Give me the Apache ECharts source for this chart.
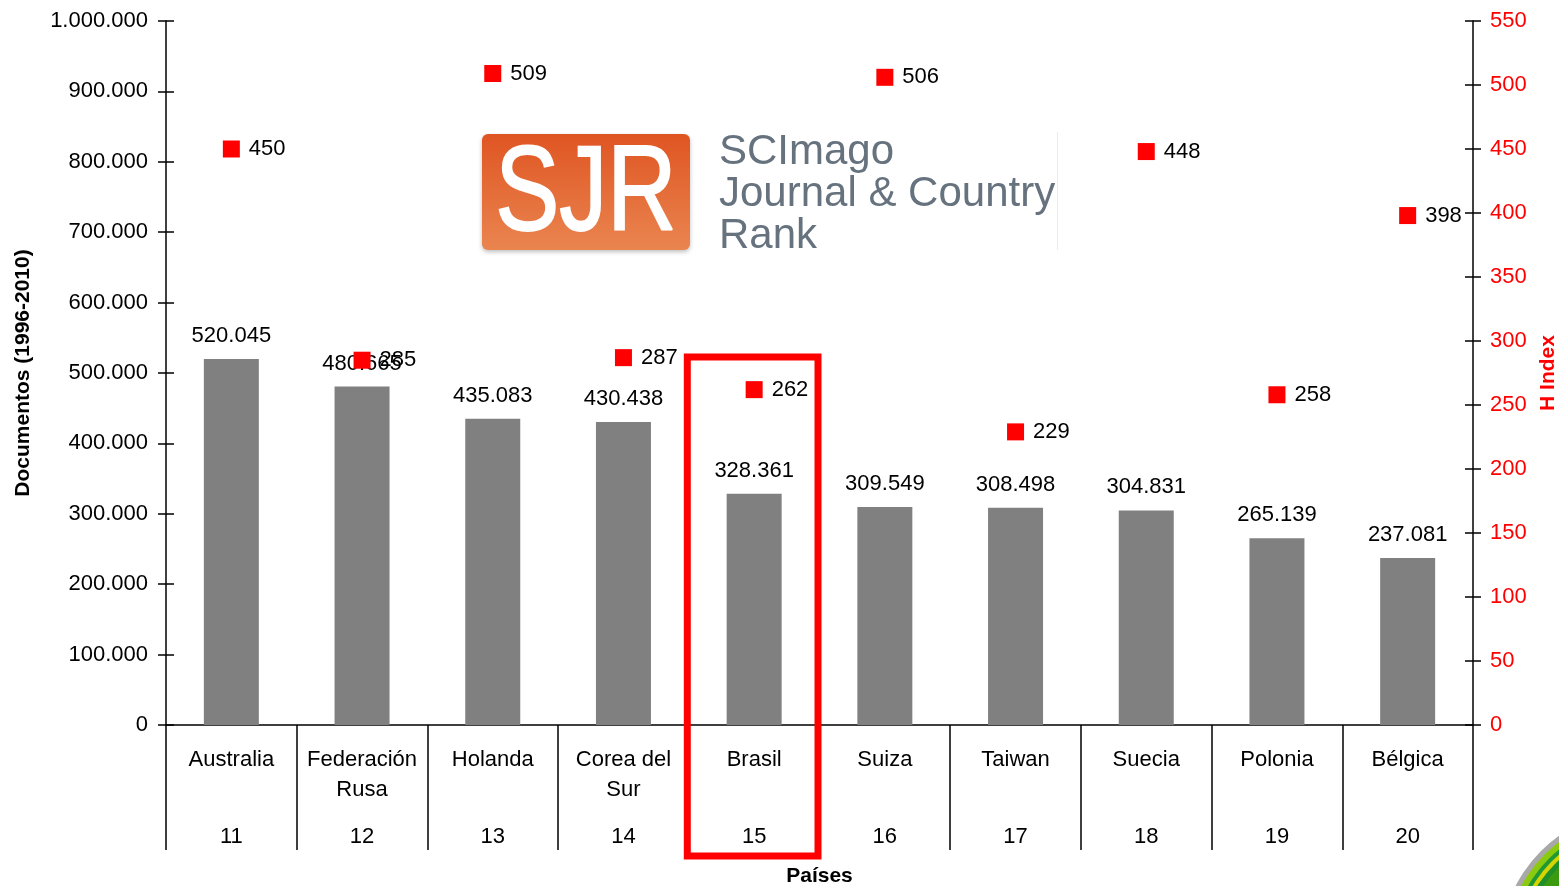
<!DOCTYPE html>
<html>
<head>
<meta charset="utf-8">
<script src="https://cdn.jsdelivr.net/npm/echarts@6/dist/echarts.min.js"></script>
<style>
  html, body { margin: 0; padding: 0; background: #fff; overflow: hidden; }
  #chart { width: 1559px; height: 886px; }
</style>
</head>
<body>
<div id="chart"></div>
<script>
// datos
var paises = ['Australia', 'Federación\nRusa', 'Holanda', 'Corea del\nSur', 'Brasil',
  'Suiza', 'Taiwan', 'Suecia', 'Polonia', 'Bélgica'];
var ranking = ['11', '12', '13', '14', '15', '16', '17', '18', '19', '20'];
var documentos = [520045, 480665, 435083, 430438, 328361, 309549, 308498, 304831, 265139, 237081];
var hIndex = [450, 285, 509, 287, 262, 506, 229, 448, 258, 398];

var FONT = 'Liberation Sans, Arial, sans-serif';

function miles(v) {
  return String(v).replace(/\B(?=(\d{3})+(?!\d))/g, '.');
}

var myChart = echarts.init(document.getElementById('chart'));

var ejeNegro = { lineStyle: { color: '#000', width: 1.5 } };

var option = {
  animation: false,
  textStyle: { fontFamily: FONT },
  grid: { left: 166, right: 86, top: 21, bottom: 161, containLabel: false, outerBoundsMode: 'none' },
  xAxis: [
    {
      type: 'category',
      data: paises,
      position: 'bottom',
      axisLine: ejeNegro,
      axisTick: { show: true, length: 125, interval: 0, lineStyle: { color: '#000', width: 1.5 } },
      axisLabel: { interval: 0, margin: 20, color: '#000', fontSize: 22, lineHeight: 30, fontFamily: FONT },
      name: 'Países',
      nameLocation: 'middle',
      nameGap: 141,
      nameTextStyle: { fontWeight: 'bold', fontSize: 21, color: '#000', fontFamily: FONT }
    },
    {
      type: 'category',
      data: ranking,
      position: 'bottom',
      axisLine: { show: false },
      axisTick: { show: false },
      axisLabel: { interval: 0, margin: 101, color: '#000', fontSize: 22, fontFamily: FONT }
    }
  ],
  yAxis: [
    {
      type: 'value',
      position: 'left',
      min: 0, max: 1000000, interval: 100000,
      axisLine: { show: true, lineStyle: { color: '#000', width: 1.5 } },
      axisTick: { show: true, length: 8, lineStyle: { color: '#000', width: 1.5 } },
      splitLine: { show: false },
      axisLabel: { margin: 18, color: '#000', fontSize: 22, fontFamily: FONT, formatter: miles },
      name: 'Documentos (1996-2010)',
      nameLocation: 'middle',
      nameGap: 132,
      nameTextStyle: { fontWeight: 'bold', fontSize: 21, color: '#000', fontFamily: FONT }
    },
    {
      type: 'value',
      position: 'right',
      min: 0, max: 550, interval: 50,
      axisLine: { show: true, lineStyle: { color: '#000', width: 1.5 } },
      axisTick: { show: true, length: 8, lineStyle: { color: '#000', width: 1.5 } },
      splitLine: { show: false },
      axisLabel: { margin: 17, color: '#ff0000', fontSize: 22, fontFamily: FONT },
      name: 'H Index',
      nameLocation: 'middle',
      nameGap: 65,
      nameTextStyle: { fontWeight: 'bold', fontSize: 21, color: '#ff0000', fontFamily: FONT }
    },
    // marcas interiores (las rayas cruzan el eje)
    {
      type: 'value', position: 'left', min: 0, max: 1000000, interval: 100000,
      axisLine: { show: false }, splitLine: { show: false }, axisLabel: { show: false },
      axisTick: { show: true, inside: true, length: 8, lineStyle: { color: '#000', width: 1.5 } }
    },
    {
      type: 'value', position: 'right', min: 0, max: 550, interval: 50,
      axisLine: { show: false }, splitLine: { show: false }, axisLabel: { show: false },
      axisTick: { show: true, inside: true, length: 8, lineStyle: { color: '#000', width: 1.5 } }
    }
  ],
  series: [
    {
      name: 'Documentos',
      type: 'bar',
      data: documentos,
      barWidth: 55,
      itemStyle: { color: '#808080' },
      label: {
        show: true, position: 'top', distance: 12,
        color: '#000', fontSize: 22, fontFamily: FONT,
        formatter: function (p) { return miles(p.value); }
      }
    },
    {
      name: 'H Index',
      type: 'scatter',
      yAxisIndex: 1,
      data: hIndex,
      symbol: 'rect',
      symbolSize: 17,
      itemStyle: { color: '#ff0000', opacity: 1 },
      label: {
        show: true, position: 'right', distance: 9,
        color: '#000', fontSize: 22, fontFamily: FONT
      },
      z: 5
    }
  ]
};

myChart.setOption(option);

// recuadro rojo sobre Brasil, logo SJR y esquina verde
var centroBrasil = myChart.convertToPixel({ xAxisIndex: 0 }, paises[4]);
var banda = myChart.getModel().getComponent('xAxis', 0).axis.getBandWidth();

myChart.setOption({
  graphic: [
    {
      type: 'rect', z: 100,
      shape: { x: centroBrasil - banda / 2 - 1.5, y: 357, width: banda, height: 499 },
      style: { fill: 'none', stroke: '#ff0000', lineWidth: 7 }
    },
    {
      type: 'rect', z: 50,
      shape: { x: 482, y: 134, width: 208, height: 116, r: 6 },
      style: {
        fill: new echarts.graphic.LinearGradient(0, 0, 0, 1, [
          { offset: 0, color: '#df5522' },
          { offset: 1, color: '#ea8550' }
        ]),
        shadowBlur: 4, shadowColor: 'rgba(0,0,0,0.25)', shadowOffsetY: 2
      }
    },
    {
      type: 'text', z: 51,
      x: 586, y: 197, scaleX: 0.8,
      style: {
        text: 'SJR', fill: '#fff', fontSize: 120, fontFamily: FONT, fontWeight: 500,
        align: 'center', verticalAlign: 'middle',
        stroke: '#fff', lineWidth: 2
      }
    },
    {
      type: 'text', z: 51,
      x: 719, y: 194,
      style: {
        text: 'SCImago\nJournal & Country\nRank', fill: '#66727e',
        fontSize: 42, lineHeight: 42, fontFamily: FONT,
        align: 'left', verticalAlign: 'middle'
      }
    },
    {
      type: 'line', z: 51,
      shape: { x1: 1057.5, y1: 132, x2: 1057.5, y2: 250 },
      style: { stroke: '#ececec', lineWidth: 1 }
    },
    { type: 'circle', z: 60, shape: { cx: 1640, cy: 950, r: 140 }, style: { fill: '#a8a8a8' } },
    { type: 'circle', z: 61, shape: { cx: 1640, cy: 950, r: 135 }, style: { fill: '#8cca10' } },
    { type: 'circle', z: 62, shape: { cx: 1640, cy: 950, r: 129 }, style: { fill: '#1f9a32' } },
    { type: 'circle', z: 63, shape: { cx: 1640, cy: 950, r: 125 }, style: { fill: '#d6d400' } },
    { type: 'circle', z: 64, shape: { cx: 1640, cy: 950, r: 121 }, style: { fill: '#1f8f2a' } },
    { type: 'circle', z: 65, shape: { cx: 1640, cy: 950, r: 116 }, style: { fill: '#3a9a10' } }
  ]
});
</script>
</body>
</html>
